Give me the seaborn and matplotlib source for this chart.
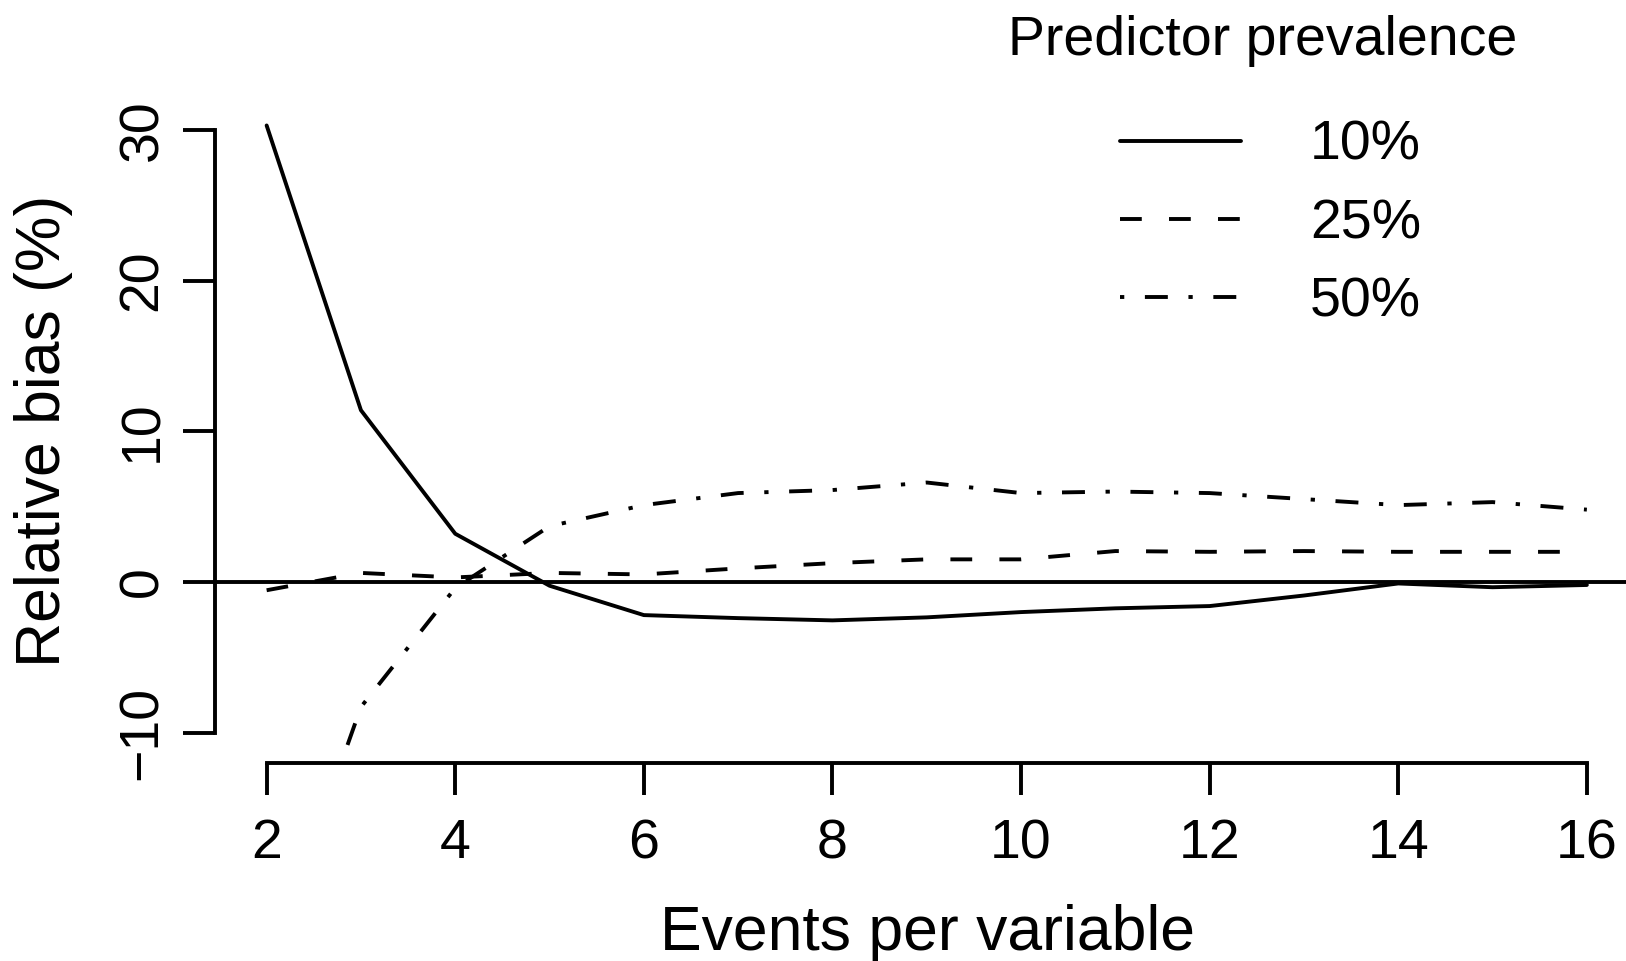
import pandas as pd
import matplotlib
matplotlib.use('Agg')
import matplotlib.pyplot as plt
import seaborn as sns

#  values
epv = list(range(2, 17))
bias_10 = [30.3, 11.4, 3.2, -0.25, -2.2, -2.4, -2.55, -2.35, -2.0, -1.75, -1.6, -0.9, -0.1, -0.35, -0.2]
bias_25 = [-0.55, 0.6, 0.3, 0.6, 0.5, 0.9, 1.25, 1.5, 1.5, 2.05, 2.0, 2.05, 2.0, 2.0, 2.0]
bias_50 = [-26.0, -8.3, -0.4, 3.7, 5.1, 5.9, 6.1, 6.6, 5.9, 6.0, 5.9, 5.5, 5.1, 5.3, 4.8]
prevalence = ['10%', '25%', '50%']
x_ticks = [2, 4, 6, 8, 10, 12, 14, 16]
y_ticks = [-10, 0, 10, 20, 30]

df = pd.DataFrame({
    'epv': epv * 3,
    'bias': bias_10 + bias_25 + bias_50,
    'prevalence': [p for p in prevalence for _ in epv],
})

sns.set_style('ticks')
plt.rcParams['font.family'] = ['Liberation Sans', 'DejaVu Sans']
plt.rcParams['text.color'] = 'black'
plt.rcParams['axes.labelcolor'] = 'black'

LW = 2.8
fig = plt.figure(figsize=(16.26, 9.61), dpi=100)
ax = fig.add_axes([0.1322, 0.2063, 0.8762, 0.6898])

#  dash lengths are in line widths
dash_map = {'10%': '', '25%': (5.6, 7.0), '50%': (1.1, 5.3, 5.9, 5.3)}
sns.lineplot(data=df, x='epv', y='bias', style='prevalence', style_order=prevalence,
             dashes=dash_map, color='black', linewidth=LW, legend=False, ax=ax)
ax.axhline(0, color='black', linewidth=LW)

ax.set_xlim(1.452, 16.56)
ax.set_ylim(-12.0, 32.0)
ax.set_xticks(x_ticks)
ax.set_yticks(y_ticks)
ax.spines['top'].set_visible(False)
ax.spines['right'].set_visible(False)
ax.spines['left'].set_bounds(-10, 30)
ax.spines['bottom'].set_bounds(2, 16)
for s in ['left', 'bottom']:
    ax.spines[s].set_linewidth(LW)
    ax.spines[s].set_color('black')

ax.tick_params(axis='both', length=23, width=LW, color='black', labelsize=40, labelcolor='black')
ax.tick_params(axis='x', pad=17)
ax.tick_params(axis='y', pad=10, labelrotation=90)
plt.setp(ax.get_yticklabels(), va='center')

ax.set_xlabel('Events per variable', fontsize=45, color='black')
ax.set_ylabel('Relative bias (%)', fontsize=45, color='black')
ax.xaxis.set_label_coords(0.5, -0.213)
ax.yaxis.set_label_coords(-0.0997, 0.5)

# legend
fig.text(1263 / 1626, 1 - 15 / 961, 'Predictor prevalence', fontsize=40,
         ha='center', va='top', color='black')
lines = ax.get_lines()[:3]
leg = ax.legend(lines, prevalence, loc='upper left', bbox_to_anchor=(1120 / 1626, 1 - 120 / 961),
                bbox_transform=fig.transFigure, frameon=False, fontsize=40,
                borderpad=0, borderaxespad=0, handlelength=2.18, handletextpad=1.24,
                labelspacing=0.47)
for t in leg.get_texts():
    t.set_color('black')

fig.savefig('out.png', dpi=100, facecolor='white')
